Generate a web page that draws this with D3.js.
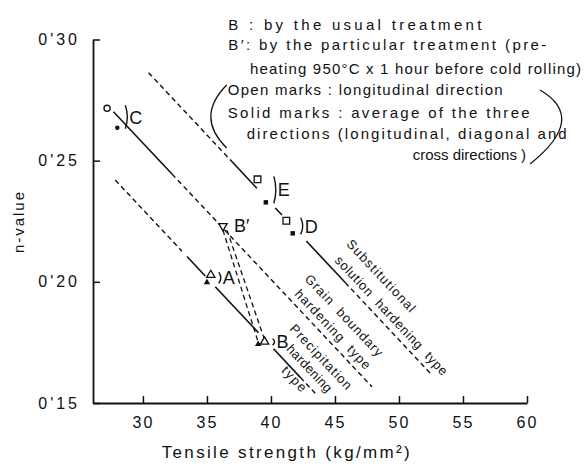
<!DOCTYPE html>
<html>
<head>
<meta charset="utf-8">
<script src="https://cdn.jsdelivr.net/npm/d3@7"></script>
<style>
  body { margin: 0; background: #fff; }
  text { font-family: "Liberation Sans", Arial, sans-serif; fill: #111; }
</style>
</head>
<body>
<svg id="chart" width="588" height="466"></svg>
<script>
// ---- data -------------------------------------------------------------
const xTicks = [30, 35, 40, 45, 50, 55, 60];
const yTicks = [0.15, 0.20, 0.25, 0.30];
const yTickLabels = ["0'15", "0'20", "0'25", "0'30"];

// steels: open = longitudinal direction, solid = average of three directions
const markNames  = ["C", "E", "D", "B′", "A", "B"];
const markShapes = ["circle", "square", "square", "triangleDown", "triangle", "triangle"];
const openX  = [27.2, 38.95, 41.2, 36.25, 35.3, 39.5];
const openY  = [0.2716, 0.2423, 0.2252, 0.2230, 0.2028, 0.1753];
const solidX = [28.0, 39.6, 41.7, null, 35.0, 39.0];
const solidY = [0.2636, 0.2328, 0.2200, null, 0.1998, 0.1743];
const bracketed = [true, true, true, false, true, true];

// hardening-type trend lines
const trendNames  = ["Substitutional solution hardening type",
                     "Grain boundary hardening type",
                     "Precipitation hardening type"];
const trendStartX = [30.44, 27.70, 27.84];
const trendStartY = [0.2863, 0.2702, 0.2420];
const trendEndX   = [52.58, 47.89, 43.46];
const trendEndY   = [0.1615, 0.1567, 0.1540];
// tensile-strength ranges drawn as solid (measured) and dashed (extended) pieces
const trendMeasured = [
  [[36.8, 38.9], [40.34, 40.86], [42.76, 45.8]],
  [[27.70, 32.27]],
  [[33.44, 34.87], [35.65, 39.03], [40.2, 42.29]]
];
const trendExtended = [
  [[30.44, 36.8], [45.8, 52.58]],
  [[32.27, 47.89]],
  [[27.84, 33.05], [42.29, 43.46]]
];
// B' (particular treatment) linked to B (usual treatment)
const linkFrom = ["B′", "B′"];
const linkTo   = ["B", "B"];
const linkToSolid = [true, false];

// ---- drawing ----------------------------------------------------------
const svg = d3.select("#chart");
const x = d3.scaleLinear().domain([26.1, 60]).range([93, 527]);
const y = d3.scaleLinear().domain([0.15, 0.30]).range([403, 39.5]);

const ink = "#111";

// axes
const xAxis = d3.axisBottom(x).tickValues(xTicks).tickSizeInner(-7).tickSizeOuter(0)
  .tickPadding(14).tickFormat(d3.format("d"));
const gx = svg.append("g").attr("transform", `translate(0,${y(0.15)})`).call(xAxis);
gx.select(".domain").attr("stroke", ink).attr("stroke-width", 1.8);
gx.selectAll(".tick line").attr("stroke", ink).attr("stroke-width", 1.5);
gx.selectAll(".tick text").attr("font-size", 16).attr("letter-spacing", 2)
  .attr("font-family", "Liberation Sans, Arial, sans-serif").attr("fill", ink);

const yAxis = d3.axisLeft(y).tickValues(yTicks).tickSizeInner(-7).tickSizeOuter(0)
  .tickPadding(13).tickFormat((d, i) => yTickLabels[i]);
const gy = svg.append("g").attr("transform", `translate(${x(26.1)},0)`).call(yAxis);
gy.select(".domain").attr("stroke", ink).attr("stroke-width", 1.8);
gy.selectAll(".tick line").attr("stroke", ink).attr("stroke-width", 1.5);
gy.selectAll(".tick text").attr("font-size", 16).attr("letter-spacing", 3)
  .attr("font-family", "Liberation Sans, Arial, sans-serif").attr("fill", ink);

// axis titles
svg.append("text").attr("x", 161.7).attr("y", 457.5).attr("font-size", 17)
  .attr("textLength", 248).attr("lengthAdjust", "spacing")
  .text("Tensile strength (kg/mm²)");
svg.append("text").attr("transform", "translate(24,253) rotate(-90)")
  .attr("font-size", 15).attr("textLength", 61).attr("lengthAdjust", "spacing")
  .text("n-value");

// trend lines
const lineAt = (i, xv) => trendStartY[i] +
  (xv - trendStartX[i]) * (trendEndY[i] - trendStartY[i]) / (trendEndX[i] - trendStartX[i]);
const gl = svg.append("g").attr("fill", "none").attr("stroke", ink);
trendNames.forEach((name, i) => {
  trendMeasured[i].forEach(([a, b]) => {
    gl.append("line").attr("x1", x(a)).attr("y1", y(lineAt(i, a)))
      .attr("x2", x(b)).attr("y2", y(lineAt(i, b))).attr("stroke-width", 1.6);
  });
  trendExtended[i].forEach(([a, b]) => {
    gl.append("line").attr("x1", x(a)).attr("y1", y(lineAt(i, a)))
      .attr("x2", x(b)).attr("y2", y(lineAt(i, b))).attr("stroke-width", 1.4)
      .attr("stroke-dasharray", "5,3.5");
  });
});

// links between treatments
linkFrom.forEach((f, k) => {
  const a = markNames.indexOf(f), b = markNames.indexOf(linkTo[k]);
  const bx = linkToSolid[k] ? solidX[b] : openX[b];
  const by = linkToSolid[k] ? solidY[b] : openY[b];
  gl.append("line").attr("x1", x(openX[a]) + (linkToSolid[k] ? 0 : 4)).attr("y1", y(openY[a]) + 4)
    .attr("x2", x(bx)).attr("y2", y(by) - 2).attr("stroke-width", 1.3)
    .attr("stroke-dasharray", "5,3.5");
});

// marks
const symbolOf = {
  circle: d3.symbolCircle, square: d3.symbolSquare,
  triangle: d3.symbolTriangle, triangleDown: d3.symbolTriangle
};
const openSize = { circle: 30, square: 44, triangle: 30, triangleDown: 30 };
const solidSize = { circle: 16, square: 20, triangle: 18, triangleDown: 18 };
const gm = svg.append("g");
markNames.forEach((name, i) => {
  const s = markShapes[i];
  const rot = s === "triangleDown" ? 180 : 0;
  if (solidX[i] != null) {
    gm.append("path").attr("d", d3.symbol(symbolOf[s], solidSize[s])())
      .attr("transform", `translate(${x(solidX[i])},${y(solidY[i])}) rotate(${rot})`)
      .attr("fill", ink);
  }
  gm.append("path").attr("d", d3.symbol(symbolOf[s], openSize[s])())
    .attr("transform", `translate(${x(openX[i])},${y(openY[i])}) rotate(${rot})`)
    .attr("fill", "#fff").attr("stroke", ink).attr("stroke-width", 1.3);
});

// steel labels with brackets
markNames.forEach((name, i) => {
  const px = [x(openX[i])], py = [y(openY[i])];
  if (solidX[i] != null) { px.push(x(solidX[i])); py.push(y(solidY[i])); }
  const bx = d3.max(px) + 8;
  const y0 = d3.min(py) - 3, y1 = d3.max(py) + 1;
  if (bracketed[i]) {
    gm.append("path")
      .attr("d", `M${bx},${y0} Q${bx + 4},${(y0 + y1) / 2} ${bx},${y1}`)
      .attr("fill", "none").attr("stroke", ink).attr("stroke-width", 1.4);
    gm.append("text").attr("x", bx + 4).attr("y", (y0 + y1) / 2 + 6.5)
      .attr("font-size", 18).text(name);
  } else {
    gm.append("text").attr("x", d3.max(px) + 11).attr("y", d3.mean(py) + 6)
      .attr("font-size", 18).text(name);
  }
});

// rotated trend-line captions
const angle = i => Math.atan2(y(trendEndY[i]) - y(trendStartY[i]),
                              x(trendEndX[i]) - x(trendStartX[i])) * 180 / Math.PI;
const captions = [
  { t: 0, lines: [["Substitutional", 45.84, 0.2154, 94], ["solution  hardening  type", 44.93, 0.2086, 158]] },
  { t: 1, lines: [["Grain  boundary", 42.59, 0.2010, 107], ["hardening  type", 41.80, 0.1948, 104]] },
  { t: 2, lines: [["Precipitation", 41.41, 0.1804, 84], ["hardening", 41.15, 0.1721, 60], ["type", 40.76, 0.1632, 30]] }
];
captions.forEach(c => {
  const a = angle(c.t);
  c.lines.forEach(([txt, xv, yv, len]) => {
    svg.append("text")
      .attr("transform", `translate(${x(xv)},${y(yv)}) rotate(${a})`)
      .attr("font-size", 13).attr("textLength", len).attr("lengthAdjust", "spacing")
      .attr("xml:space", "preserve").style("white-space", "pre")
      .text(txt);
  });
});

// key text
const keyLines = [
  ["B : by the usual treatment", 228.3, 30.4, 253],
  ["B′: by the particular treatment (pre-", 228.3, 50.4, 318],
  ["heating 950°C x 1 hour before cold rolling)", 250, 73.7, 331],
  ["Open marks : longitudinal direction", 227.7, 95.4, 275],
  ["Solid marks : average of the three", 227.7, 118.1, 302],
  ["directions (longitudinal, diagonal and", 246.7, 138.7, 320],
  ["cross directions )", 412.7, 160.4, null]
];
keyLines.forEach(([txt, kx, ky, len]) => {
  const t = svg.append("text").attr("x", kx).attr("y", ky).attr("font-size", 15).text(txt);
  if (len) t.attr("textLength", len).attr("lengthAdjust", "spacing");
});
// parentheses round the open/solid mark note
svg.append("path").attr("d", "M226.7,85 Q195,117 226.7,148")
  .attr("fill", "none").attr("stroke", ink).attr("stroke-width", 1.3);
svg.append("path").attr("d", "M540,90 Q588,118 530,164")
  .attr("fill", "none").attr("stroke", ink).attr("stroke-width", 1.3);
</script>
</body>
</html>
